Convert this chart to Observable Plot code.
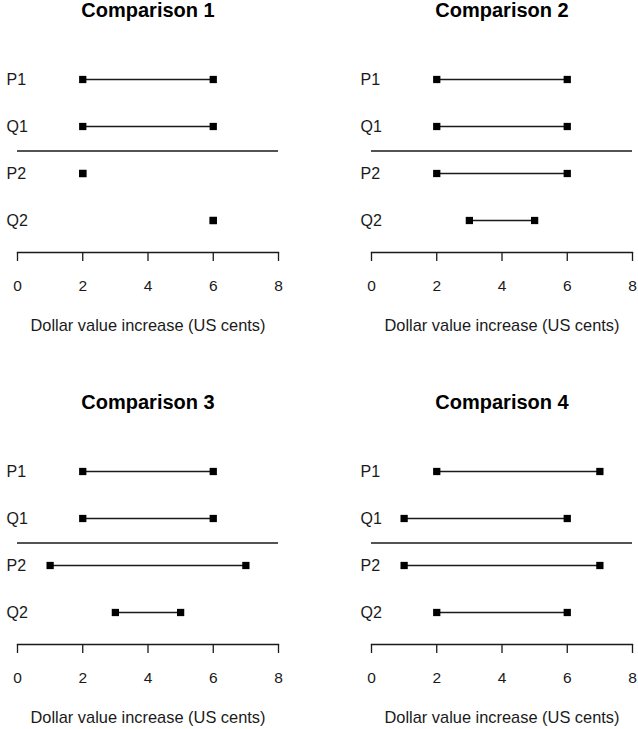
<!DOCTYPE html>
<html>
<head>
<meta charset="utf-8">
<script src="https://cdn.jsdelivr.net/npm/d3@7"></script>
<script src="https://cdn.jsdelivr.net/npm/@observablehq/plot@0.6"></script>
<style>
  html, body { margin: 0; padding: 0; background: #fff; }
  #wrap { position: relative; width: 638px; height: 729px; overflow: hidden; font-family: "Liberation Sans", Arial, sans-serif; }
  .panel { position: absolute; }
</style>
</head>
<body>
<div id="wrap"></div>
<script>
// ---- data ----
const rows = ["P1", "Q1", "P2", "Q2"];
const titles = ["Comparison 1", "Comparison 2", "Comparison 3", "Comparison 4"];
const lower1 = [2, 2, 2, 6];
const upper1 = [6, 6, 2, 6];
const lower2 = [2, 2, 2, 3];
const upper2 = [6, 6, 6, 5];
const lower3 = [2, 2, 1, 3];
const upper3 = [6, 6, 7, 5];
const lower4 = [2, 1, 1, 2];
const upper4 = [7, 6, 7, 6];
const xTicks = [0, 2, 4, 6, 8];
const xLabel = ["Dollar value increase (US cents)"];

const lowers = [lower1, lower2, lower3, lower4];
const uppers = [upper1, upper2, upper3, upper4];
const separator = [(rows.indexOf("Q1") + 1 + rows.indexOf("P2") + 1) / 2];

const W = 284, H = 336, mTop = 70, mBottom = 84, mLeft = 17, mRight = 6;
const positions = [[0, 0], [354, 0], [0, 392], [354, 392]];
const ink = "#1a1a1a";

titles.forEach((title, k) => {
  const data = rows.map((r, i) => ({row: r, pos: i + 1, lo: lowers[k][i], hi: uppers[k][i]}));
  const ends = data.flatMap(d => [{pos: d.pos, v: d.lo}, {pos: d.pos, v: d.hi}]);
  const chart = Plot.plot({
    width: W, height: H,
    marginTop: mTop, marginBottom: mBottom, marginLeft: mLeft, marginRight: mRight,
    style: {fontFamily: "Liberation Sans, Arial, sans-serif", color: ink, background: "#fff", overflow: "visible"},
    x: {domain: [xTicks[0], xTicks[xTicks.length - 1]], axis: null},
    y: {domain: [1, rows.length], reverse: true, insetTop: 9, insetBottom: 32, axis: null},
    marks: [
      Plot.frame({anchor: "bottom", stroke: ink, strokeWidth: 1.3}),
      Plot.axisX({ticks: xTicks, tickSize: 9, tickPadding: 18, fontSize: 15.5, stroke: ink, strokeWidth: 1.3, fill: ink, label: null}),
      Plot.ruleY(separator, {y: d => d, x1: xTicks[0], x2: xTicks[xTicks.length - 1], stroke: ink, strokeWidth: 1.3, dy: 1}),
      Plot.link(data, {x1: "lo", x2: "hi", y1: "pos", y2: "pos", stroke: ink, strokeWidth: 1.4}),
      Plot.dot(ends, {x: "v", y: "pos", symbol: "square", r: 4.1, fill: "#000", stroke: null}),
      Plot.text(data, {y: "pos", text: "row", frameAnchor: "left", textAnchor: "start", dx: -11, fontSize: 16, fill: ink}),
      Plot.text([title], {text: d => d, frameAnchor: "top", dy: 10 - mTop, fontSize: 20, fontWeight: "bold", fill: "#000", lineAnchor: "middle"}),
      Plot.text(xLabel, {text: d => d, frameAnchor: "bottom", dy: 325 - (H - mBottom), fontSize: 16.4, fill: ink, lineAnchor: "middle"})
    ]
  });
  const div = document.createElement("div");
  div.className = "panel";
  div.style.left = positions[k][0] + "px";
  div.style.top = positions[k][1] + "px";
  div.appendChild(chart);
  document.getElementById("wrap").appendChild(div);
});
</script>
</body>
</html>
